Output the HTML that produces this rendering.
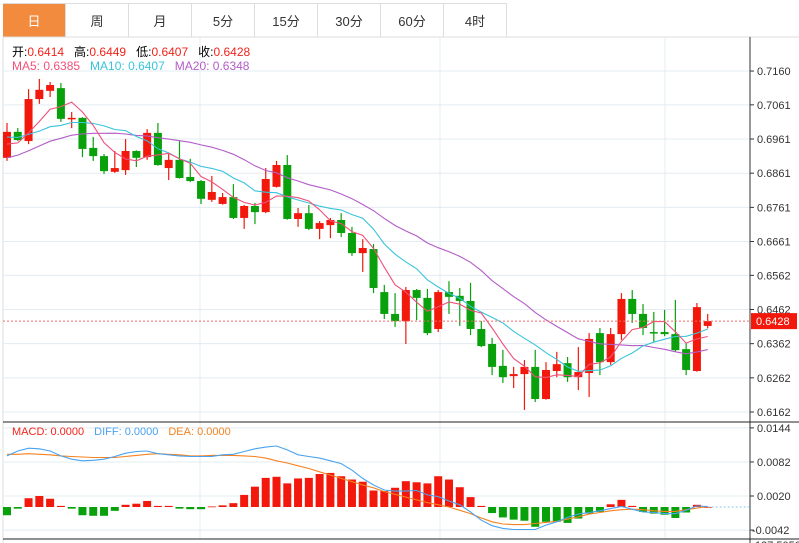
<!DOCTYPE html>
<html><head><meta charset="utf-8">
<style>
html,body{margin:0;padding:0;background:#fff;}
body{width:799px;height:543px;overflow:hidden;position:relative;font-family:"Liberation Sans","Noto Sans CJK SC",sans-serif;}
.tabs{position:absolute;left:3px;top:3px;height:34px;display:flex;border-top:1px solid #ddd;}
.tab{width:62px;height:33px;border-right:1px solid #ddd;font-size:13px;color:#333;display:flex;align-items:center;justify-content:center;}
.tab.on{background:#f28b3d;color:#fff;}
.hdr{position:absolute;left:12px;font-size:12px;white-space:nowrap;}
.hdr span{margin-right:10px}
svg{position:absolute;left:0;top:0;}
</style></head><body>
<div class="tabs">
<div class="tab on">日</div>
<div class="tab">周</div>
<div class="tab">月</div>
<div class="tab">5分</div>
<div class="tab">15分</div>
<div class="tab">30分</div>
<div class="tab">60分</div>
<div class="tab">4时</div>
</div>
<svg id="c" width="799" height="543"></svg>
<div class="hdr" style="top:43px"><span>开:<b style="font-weight:normal;color:#f2231b">0.6414</b></span><span>高:<b style="font-weight:normal;color:#f2231b">0.6449</b></span><span>低:<b style="font-weight:normal;color:#f2231b">0.6407</b></span><span>收:<b style="font-weight:normal;color:#f2231b">0.6428</b></span></div>
<div class="hdr" style="top:59px"><span style="color:#f0507a">MA5: 0.6385</span><span style="color:#38c4dc">MA10: 0.6407</span><span style="color:#b45cc8">MA20: 0.6348</span></div>
<div class="hdr" style="top:426px;font-size:11px"><span style="color:#f2231b">MACD: 0.0000</span><span style="color:#4aa3f0">DIFF: 0.0000</span><span style="color:#f58220">DEA: 0.0000</span></div>
<script>
const priorCloses=[0.680,0.682,0.683,0.684,0.685,0.684,0.686,0.687,0.687,0.687,0.697,0.699,0.701,0.699,0.698,0.694,0.693,0.694,0.6938];
const opens=[0.6906,0.6982,0.6955,0.7078,0.7102,0.7110,0.7020,0.7023,0.6935,0.6911,0.6865,0.6870,0.6926,0.6908,0.6979,0.6876,0.6900,0.6850,0.6838,0.6783,0.6771,0.6791,0.6730,0.6765,0.6747,0.6821,0.6885,0.6727,0.6744,0.6698,0.6709,0.6724,0.6686,0.6627,0.6639,0.6513,0.6449,0.6428,0.6519,0.6496,0.6405,0.6513,0.6502,0.6487,0.6405,0.6361,0.6297,0.6267,0.6273,0.6294,0.6200,0.6282,0.6305,0.6264,0.6276,0.6393,0.6308,0.6390,0.6493,0.6449,0.6396,0.6396,0.6390,0.6346,0.6282,0.6414];
const highs=[0.7008,0.6993,0.7107,0.7137,0.7128,0.7125,0.7040,0.7025,0.6967,0.6917,0.6926,0.6961,0.6928,0.6990,0.7008,0.6917,0.6955,0.6903,0.6841,0.6853,0.6803,0.6829,0.6768,0.6774,0.6876,0.6897,0.6914,0.6759,0.6768,0.6721,0.6730,0.6744,0.6704,0.6668,0.6654,0.6534,0.6510,0.6528,0.6522,0.6522,0.6519,0.6545,0.6525,0.6540,0.6428,0.6379,0.6344,0.6294,0.6314,0.6344,0.6308,0.6338,0.6323,0.6352,0.6393,0.6408,0.6408,0.6510,0.6519,0.6478,0.6455,0.6461,0.6490,0.6364,0.6481,0.6449];
const lows=[0.6897,0.6955,0.6946,0.7064,0.7084,0.7011,0.6993,0.6908,0.6897,0.6859,0.6862,0.6856,0.6879,0.6900,0.6883,0.6841,0.6845,0.6835,0.6771,0.6777,0.6769,0.6727,0.6698,0.6712,0.6744,0.6819,0.6725,0.6704,0.6695,0.6668,0.6671,0.6674,0.6619,0.6572,0.6510,0.6434,0.6411,0.6361,0.6431,0.6387,0.6396,0.6449,0.6414,0.6387,0.6352,0.6270,0.6247,0.6232,0.6168,0.6191,0.6198,0.6264,0.6250,0.6226,0.6206,0.6270,0.6300,0.6373,0.6423,0.6387,0.6367,0.6384,0.6338,0.6270,0.6280,0.6407];
const closes=[0.6982,0.6958,0.7078,0.7105,0.7119,0.7020,0.7023,0.6932,0.6911,0.6867,0.6876,0.6926,0.6906,0.6979,0.6885,0.6900,0.6847,0.6838,0.6786,0.6806,0.6791,0.6730,0.6765,0.6747,0.6844,0.6885,0.6727,0.6744,0.6698,0.6715,0.6724,0.6686,0.6627,0.6642,0.6525,0.6449,0.6428,0.6519,0.6496,0.6393,0.6513,0.6499,0.6487,0.6405,0.6355,0.6294,0.6264,0.6273,0.6294,0.6200,0.6285,0.6302,0.6264,0.6279,0.6376,0.6308,0.6390,0.6493,0.6449,0.6408,0.6393,0.6390,0.6343,0.6285,0.6469,0.6428];
const priceTicks=[0.7160,0.7061,0.6961,0.6861,0.6761,0.6661,0.6562,0.6462,0.6362,0.6262,0.6162];
const macdVals=[-0.0015,-0.0003,0.0016,0.0020,0.0015,0.0002,-0.0003,-0.0015,-0.0016,-0.0016,-0.0007,0.0004,0.0006,0.0011,0.0002,0.0002,-0.0003,-0.0004,-0.0004,0.0001,0.0003,0.0007,0.0022,0.0037,0.0053,0.0055,0.0043,0.0052,0.0053,0.0060,0.0062,0.0056,0.0050,0.0046,0.0030,0.0029,0.0035,0.0047,0.0045,0.0043,0.0056,0.0050,0.0036,0.0018,0.0002,-0.0011,-0.0019,-0.0023,-0.0025,-0.0036,-0.0027,-0.0027,-0.0029,-0.0021,-0.0012,-0.0009,0.0005,0.0013,0.0002,-0.0009,-0.0012,-0.0014,-0.0020,-0.0010,0.0004,0.0000];
const diffVals=[0.0093,0.0102,0.0107,0.0106,0.0102,0.0093,0.0087,0.0084,0.0085,0.0087,0.0092,0.0098,0.0101,0.0102,0.0097,0.0095,0.0093,0.0092,0.0092,0.0092,0.0095,0.0096,0.0101,0.0106,0.0109,0.0111,0.0104,0.0095,0.0092,0.0089,0.0084,0.0079,0.0067,0.0052,0.0040,0.0031,0.0029,0.0029,0.0030,0.0022,0.0019,0.0011,0.0004,-0.0009,-0.0024,-0.0034,-0.0039,-0.0041,-0.0041,-0.0041,-0.0033,-0.0027,-0.0019,-0.0013,-0.0010,-0.0007,-0.0003,0.0001,-0.0004,-0.0009,-0.0010,-0.0012,-0.0012,-0.0006,0.0002,0.0001];
const deaVals=[0.0096,0.0096,0.0097,0.0096,0.0095,0.0093,0.0092,0.0091,0.0090,0.0090,0.0090,0.0092,0.0094,0.0096,0.0097,0.0096,0.0095,0.0093,0.0093,0.0094,0.0094,0.0094,0.0093,0.0092,0.0089,0.0084,0.0080,0.0075,0.0070,0.0064,0.0058,0.0052,0.0046,0.0040,0.0035,0.0028,0.0023,0.0018,0.0013,0.0008,0.0004,0.0000,-0.0006,-0.0012,-0.0020,-0.0027,-0.0031,-0.0032,-0.0032,-0.0030,-0.0028,-0.0026,-0.0022,-0.0018,-0.0013,-0.0010,-0.0007,-0.0005,-0.0004,-0.0005,-0.0007,-0.0008,-0.0008,-0.0005,-0.0002,0.0001];
const macdTicks=[0.0144,0.0082,0.0020,-0.0042];
const lastPrice=0.6428;

const NS='http://www.w3.org/2000/svg';
const svg=document.getElementById('c');
function el(tag,attrs,parent){const e=document.createElementNS(NS,tag);for(const k in attrs)e.setAttribute(k,attrs[k]);(parent||svg).appendChild(e);return e;}
const xOf=i=>7+i*10.78;
const yP=p=>412-(p-0.6162)/0.0002927;
const yM=v=>507-v/0.000182;
const RED='#f2180c',GREEN='#08a10c';

// frame & grid
let g=el('g',{});


el('line',{x1:3,y1:37,x2:799,y2:37,stroke:'#ddd'},g);
el('line',{x1:3,y1:37,x2:3,y2:543,stroke:'#ddd'},g);
[200,440,665].forEach(x=>el('line',{x1:x,y1:37,x2:x,y2:539,stroke:'#e3ecf3'},g));
priceTicks.forEach(p=>el('line',{x1:3,y1:yP(p),x2:750,y2:yP(p),stroke:'#e3ecf3'},g));
macdTicks.forEach(v=>el('line',{x1:3,y1:yM(v),x2:750,y2:yM(v),stroke:'#e3ecf3'},g));
el('line',{x1:750,y1:37,x2:750,y2:543,stroke:'#333'},g);
el('line',{x1:3,y1:422,x2:799,y2:422,stroke:'#222'},g);
el('line',{x1:3,y1:539,x2:799,y2:539,stroke:'#222'},g);

// axis labels
let ax=el('g',{'font-size':'11','fill':'#333','font-family':'Liberation Sans, sans-serif'});


priceTicks.forEach(p=>{el('line',{x1:750,y1:yP(p),x2:754,y2:yP(p),stroke:'#333'},ax);const t=el('text',{x:757,y:yP(p)+4},ax);t.textContent=p.toFixed(4);});
let mx=el('g',{'font-size':'11','fill':'#333','font-family':'Liberation Sans, sans-serif'});


macdTicks.forEach(v=>{el('line',{x1:750,y1:yM(v),x2:754,y2:yM(v),stroke:'#333'},mx);const t=el('text',{x:v<0?752:757,y:yM(v)+4},mx);t.textContent=v.toFixed(4);});
const cut=el('text',{x:755,y:549},mx);cut.textContent='127.5050';

// MA computation
const all=priorCloses.concat(closes);
function ma(n){return closes.map((c,i)=>{const j=i+priorCloses.length;let s=0;for(let k=j-n+1;k<=j;k++)s+=all[k];return s/n;});}
function poly(vals,yf,color,name){const pts=vals.map((v,i)=>xOf(i).toFixed(1)+','+yf(v).toFixed(1)).join(' ');const p=el('polyline',{points:pts,fill:'none',stroke:color,'stroke-width':1.1});}

// candles
let cg=el('g',{});


closes.forEach((c,i)=>{
  const o=opens[i],col=c>=o?RED:GREEN,x=xOf(i);
  const w=el('line',{x1:x,y1:yP(highs[i]),x2:x,y2:yP(lows[i]),stroke:col,'stroke-width':1.2},cg);
  const top=yP(Math.max(o,c)),h=Math.max(1.5,yP(Math.min(o,c))-top);
  const r=el('rect',{x:x-4,y:top,width:8,height:h,fill:col},cg);
  
  
});
poly(ma(20),yP,'#b45cc8','ma20-line');
poly(ma(10),yP,'#38c4dc','ma10-line');
poly(ma(5),yP,'#f0507a','ma5-line');

// last price line
const lp=el('line',{x1:3,y1:yP(lastPrice),x2:750,y2:yP(lastPrice),stroke:'#f26b63','stroke-dasharray':'2,2'});


const lb=el('rect',{x:751,y:yP(lastPrice)-8,width:46,height:16,fill:'#f2180c'});


const lt=el('text',{x:756,y:yP(lastPrice)+4,'font-size':'11',fill:'#fff','font-family':'Liberation Sans, sans-serif'});lt.textContent=lastPrice.toFixed(4);

// MACD
let mg=el('g',{});


macdVals.forEach((v,i)=>{const y0=yM(0),y1=yM(v);const r=el('rect',{x:xOf(i)-4,y:Math.min(y0,y1),width:8,height:Math.max(0.8,Math.abs(y1-y0)),fill:v>=0?RED:GREEN},mg);
  
  });
const zl=el('line',{x1:xOf(macdVals.length-1),y1:yM(0),x2:750,y2:yM(0),stroke:'#8cc8ee','stroke-dasharray':'2,2'});


poly(deaVals,yM,'#f58220','dea-line');
poly(diffVals,yM,'#4aa3f0','diff-line');
</script>
</body></html>
